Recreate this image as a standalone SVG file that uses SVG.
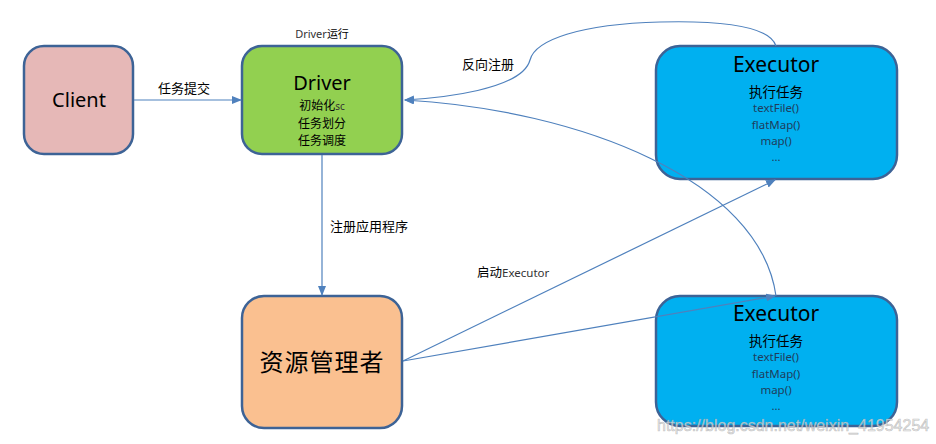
<svg xmlns="http://www.w3.org/2000/svg" width="936" height="444" viewBox="0 0 936 444">
<style>
.node{stroke:#3D6396;stroke-width:2.5}
.conn{fill:none;stroke:#4F81BD;stroke-width:1.2}
.t{font-family:"Noto Sans","Noto Sans CJK SC",sans-serif;fill:#000;text-anchor:middle}
.c{font-family:"Noto Sans CJK SC","Noto Sans",sans-serif;fill:#000}
.sm{font-family:"Noto Sans",sans-serif;fill:#1F3D5C;text-anchor:middle;font-size:11.5px}
</style>
<defs>
<marker id="ah" markerWidth="10" markerHeight="8" refX="9" refY="4" orient="auto" markerUnits="userSpaceOnUse">
<path d="M0,0 L10,4 L0,8 Z" fill="#4F81BD"/>
</marker>
</defs>
<rect width="936" height="444" fill="#fff"/>
<g id="client">
<rect class="node" x="24" y="46" width="109" height="108" rx="20" fill="#E6B8B7"/>
<text class="t" x="79" y="107" font-size="20">Client</text>
</g>
<g id="driver">
<text class="c" x="322" y="38" font-size="11" text-anchor="middle"><tspan font-family="Noto Sans" fill="#333">Driver</tspan>运行</text>
<rect class="node" x="242" y="46" width="160" height="108" rx="20" fill="#92D050"/>
<text class="t" x="322" y="90" font-size="20">Driver</text>
<text class="c" x="322" y="110" font-size="12" text-anchor="middle">初始化<tspan font-family="Noto Sans" fill="#333" font-size="10">sc</tspan></text>
<text class="c" x="322" y="127.5" font-size="12" text-anchor="middle">任务划分</text>
<text class="c" x="322" y="145" font-size="12" text-anchor="middle">任务调度</text>
</g>
<g id="resource-manager">
<rect class="node" x="242" y="296" width="160" height="132" rx="22" fill="#FAC090"/>
<text class="c" x="322" y="371" font-size="24" text-anchor="middle" fill="#4a4a4a" letter-spacing="1">资源管理者</text>
</g>
<g id="executor-1">
<rect class="node" x="656" y="46" width="241" height="133" rx="24" fill="#00B0F0"/>
<text class="t" x="776" y="72" font-size="21">Executor</text>
<text class="c" x="776" y="97" font-size="13.5" text-anchor="middle">执行任务</text>
<text class="sm" x="776" y="112">textFile()</text>
<text class="sm" x="776" y="129">flatMap()</text>
<text class="sm" x="776" y="145">map()</text>
<text class="sm" x="776" y="161">...</text>
</g>
<g id="executor-2">
<rect class="node" x="656" y="296" width="241" height="130" rx="24" fill="#00B0F0"/>
<text class="t" x="776" y="321" font-size="21">Executor</text>
<text class="c" x="776" y="346" font-size="13.5" text-anchor="middle">执行任务</text>
<text class="sm" x="776" y="361">textFile()</text>
<text class="sm" x="776" y="378">flatMap()</text>
<text class="sm" x="776" y="394">map()</text>
<text class="sm" x="776" y="410">...</text>
</g>
<g id="connectors">
<line class="conn" x1="134" y1="100" x2="241" y2="100" marker-end="url(#ah)"/>
<line class="conn" x1="322" y1="155" x2="322" y2="295" marker-end="url(#ah)"/>
<path class="conn" d="M776,46 C768,22 700,21 660,22 C580,24 535,40 530,60 C522,90 440,98 405,100" marker-end="url(#ah)"/>
<path class="conn" d="M776,296 C760,180 580,110 405,100" marker-end="url(#ah)"/>
<line class="conn" x1="403" y1="361" x2="775" y2="180" marker-end="url(#ah)"/>
<line class="conn" x1="403" y1="361" x2="775" y2="296" marker-end="url(#ah)"/>
<text class="c" x="158" y="93" font-size="13">任务提交</text>
<text class="c" x="330" y="231" font-size="13">注册应用程序</text>
<text class="c" x="462" y="69" font-size="13">反向注册</text>
<text class="c" x="477" y="277" font-size="12.5">启动<tspan font-family="Noto Sans" fill="#333" font-size="11.5">Executor</tspan></text>
</g>
<text x="657" y="431" font-family="Liberation Sans, sans-serif" font-size="16" fill="#e8e8e8" fill-opacity="0.75" stroke="#9a9a9a" stroke-opacity="0.6" stroke-width="0.6">https://blog.csdn.net/weixin_41954254</text>
</svg>
